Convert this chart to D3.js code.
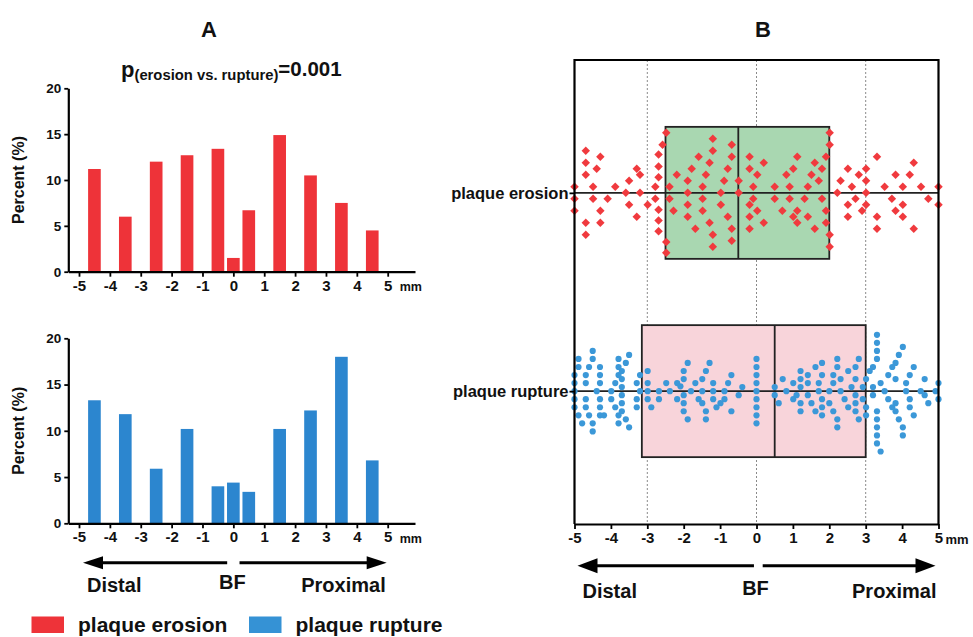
<!DOCTYPE html>
<html>
<head>
<meta charset="utf-8">
<script src="https://cdn.jsdelivr.net/npm/d3@7"></script>
<style>
  html, body { margin: 0; padding: 0; background: #fff; }
  svg { display: block; font-family: "Liberation Sans", Arial, Helvetica, sans-serif; font-weight: bold; }
  svg text { font-weight: bold; }
</style>
</head>
<body>
<svg id="chart" width="973" height="637"></svg>
<script>
// ---------------- DATA ----------------
const binCenters = [-4.5, -3.5, -2.5, -1.5, -0.5, 0, 0.5, 1.5, 2.5, 3.5, 4.5];
const erosionPct = [11.2, 6.0, 12.0, 12.7, 13.4, 1.5, 6.7, 14.9, 10.5, 7.5, 4.5];
const rupturePct = [13.3, 11.8, 5.9, 10.2, 4.0, 4.4, 3.4, 10.2, 12.2, 18.0, 6.8];
const xTicks = [-5, -4, -3, -2, -1, 0, 1, 2, 3, 4, 5];
const yTicks = [0, 5, 10, 15, 20];
const gridLinesB = [-3, 0, 3];
const groups = ["plaque erosion", "plaque rupture"];
// box statistics: [min, q1, median, q3, max]
const erosionBox = [-5, -2.5, -0.5, 2.0, 5];
const ruptureBox = [-5, -3.15, 0.5, 3.0, 5];
// individual lesions: [position in mm, vertical jitter (stacking rank)]
const erosionPoints = [
  [-5.00,-1],[-5.00,1],[-5.00,3],
  [-4.69,-7],[-4.69,-5],[-4.69,-3],[-4.69,5],[-4.69,7],
  [-4.49,-1],[-4.49,1],[-4.39,-4],[-4.29,-6],[-4.29,3],[-4.29,5],
  [-4.09,1],[-3.88,-1],[-3.59,0],[-3.50,-2],[-3.50,2],
  [-3.29,-4],[-3.29,4],[-3.20,-3],[-3.20,0],[-2.99,2],
  [-2.78,-1],[-2.78,1],
  [-2.69,-6.4],[-2.69,-4.4],[-2.69,-2.6],[-2.69,2.8],[-2.69,4.6],[-2.69,6.4],
  [-2.58,-8],[-2.48,-10],[-2.48,8.2],[-2.48,10],
  [-2.39,-1],[-2.39,1],[-2.28,3],[-2.19,-3],
  [-1.89,-2],[-1.89,0],[-1.89,2],[-1.89,4],
  [-1.78,-4],[-1.68,6],[-1.59,-6],
  [-1.48,-1],[-1.48,1],[-1.48,3],[-1.39,-3],[-1.29,-5],[-1.29,5],
  [-1.20,-9],[-1.20,-7],[-1.20,7],[-1.20,9],
  [-0.98,0],[-0.98,2],[-0.89,-2],[-0.79,-4],[-0.79,4],
  [-0.68,-8],[-0.68,-6],[-0.68,6],[-0.68,8],
  [-0.49,-2],[-0.49,0],
  [-0.19,-6],[-0.19,-4],[-0.19,2],[-0.19,4],[-0.19,6],
  [-0.09,-1],[-0.09,1],[0.02,-3],[0.02,3],[0.20,-5],[0.20,5],
  [0.50,-1],[0.50,1],[0.71,3],[0.82,-3],[0.91,-1],[0.91,1],
  [1.01,-4],[1.01,4],[1.12,-6],[1.12,3],[1.12,5],[1.32,1],
  [1.41,-1],[1.41,4],[1.51,-3],[1.60,-5],[1.60,6],[1.71,-2],
  [1.80,-4],[1.80,1],[1.91,-6],[1.91,3],[1.91,5],
  [2.01,-10],[2.01,-8],[2.01,7],[2.01,9],
  [2.22,0],[2.31,-2],[2.51,-4],[2.51,2],[2.51,4],[2.62,-1],[2.72,1],
  [2.81,-3],[2.90,3],[3.01,-4],[3.01,-2],[3.01,0],[3.01,2],
  [3.31,-6],[3.31,4],[3.31,6],[3.52,-1],[3.72,1],[3.82,-3],[3.82,3],
  [4.02,-1],[4.02,2],[4.02,4],[4.21,-3],[4.32,-5],[4.32,6],
  [4.52,-1],[4.72,1],[5.00,-1],[5.00,2]
];
const rupturePoints = [
  [-5.00,-2],[-5.00,-1],[-5.00,0],[-5.00,1],[-5.00,2],
  [-4.89,-4],[-4.89,-3],[-4.89,3],[-4.79,4],
  [-4.69,-2],[-4.69,-1],[-4.69,1],[-4.69,2],[-4.60,-3],[-4.60,3],
  [-4.50,-5],[-4.50,-4],[-4.50,4],[-4.50,5],[-4.39,0],
  [-4.30,-3],[-4.30,-2],[-4.30,-1],[-4.30,1],[-4.30,2],[-4.30,3],[-4.19,3],
  [-3.99,0],[-3.99,1],[-3.88,-1],[-3.88,2],
  [-3.79,-4],[-3.79,-3],[-3.79,-2],[-3.79,3],[-3.79,4],
  [-3.70,-2.5],[-3.70,-1.5],[-3.70,-0.5],[-3.70,0.5],[-3.70,1.5],[-3.70,2.5],
  [-3.59,-3.5],[-3.59,3.5],[-3.50,-4.5],[-3.50,4.5],
  [-3.29,-1],[-3.29,1],[-3.29,2],[-3.20,-2],[-3.20,0],
  [-2.99,-2.5],[-2.99,-1],[-2.99,0],[-2.99,1],[-2.89,2],
  [-2.68,0],[-2.68,1],[-2.48,-1],[-2.38,0],[-2.18,-1],[-2.18,1],[-2.09,-0.6],
  [-2.00,-2.5],[-2.00,-1.5],[-2.00,0.5],[-2.00,1.5],[-2.00,2.5],
  [-1.89,-3.5],[-1.89,3.5],[-1.80,0],[-1.68,-1],[-1.59,1],
  [-1.49,-1.5],[-1.49,0],[-1.49,1.5],[-1.39,-2.5],[-1.39,2.5],[-1.39,3.5],
  [-1.29,-3.5],[-1.19,-1],[-1.19,0],[-1.19,1],[-1.10,2],[-0.99,1.5],
  [-0.88,0],[-0.88,1],[-0.78,-1],[-0.69,-2],[-0.69,2.5],[-0.49,0.5],[-0.39,-0.5],
  [0,-4],[0,-3],[0,-2],[0,-1],[0,0],[0,1],[0,2],[0,3],[0,4],
  [0.50,-0.5],[0.50,0.5],[0.61,1.5],[0.72,-1.5],[0.82,0],
  [1.01,-1],[1.01,1],[1.10,0.5],
  [1.21,-2.5],[1.21,-1.5],[1.21,-0.5],[1.21,1.5],[1.21,2.5],
  [1.41,-2],[1.41,-1],[1.41,0.5],[1.51,1.5],[1.62,-3],[1.62,2.5],
  [1.71,-1],[1.71,0],[1.80,-3.5],[1.80,-2],[1.80,1],[1.80,2],[1.80,3],
  [2.00,0],[2.00,1.5],[2.11,-2],[2.11,-1],[2.11,2.5],
  [2.22,-4],[2.22,-3],[2.22,3.5],[2.22,4.5],[2.31,-1.5],[2.31,0],[2.42,1],
  [2.52,-2.5],[2.52,2],[2.61,-0.5],
  [2.72,-3],[2.72,-1.5],[2.72,0.5],[2.72,1.5],[2.72,2.5],
  [2.81,-4],[2.81,3.5],[2.92,-0.5],[2.92,1],[3.01,-1.5],[3.01,2],[3.01,3],
  [3.11,-2.5],[3.20,-3],[3.20,-0.5],[3.20,0.5],
  [3.31,-7],[3.31,-6],[3.31,-5],[3.31,-4],[3.31,2.5],[3.31,3.5],[3.31,4.5],[3.31,5.5],[3.31,6.5],
  [3.41,7.5],[3.41,-1],[3.52,0],[3.62,-2],[3.62,1],[3.73,-3],[3.73,2],
  [3.82,-3.5],[3.82,-1.5],[3.82,1.5],[3.82,2.5],[3.91,-4.5],[3.91,3.5],
  [4.02,-5.5],[4.02,4.5],[4.02,5.5],[4.11,-1],[4.11,0],
  [4.21,-2],[4.21,1],[4.21,2],[4.32,-3],[4.32,3],
  [4.51,0],[4.62,-1.5],[4.62,0.5],[4.72,1.5],[4.92,0],[5.00,-1],[5.00,1]
];
// jitter extents (in stacking-rank units) that correspond to the box height
const jitterExtent = [11, 8.2];

// ---------------- STYLE ----------------
const RED = "#ee3339", BLUE = "#2c86cf";
const RED_PT = "#f03a3e", BLUE_PT = "#3b98d8";
const GREEN_BOX = "#a9d7b1", PINK_BOX = "#f8d4da";
const FONT = "Liberation Sans, Arial, sans-serif";

const svg = d3.select("#chart");
svg.append("rect").attr("width", 973).attr("height", 637).attr("fill", "#fff");

function styleTicks(axisG, size) {
  axisG.selectAll(".tick text").attr("font-size", size).attr("font-weight", "bold")
    .attr("font-family", FONT).attr("fill", "#111");
}

// ---------------- PANEL A ----------------
const xA = d3.scaleLinear().domain([-5, 5]).range([79, 387.7]);
const xAaxis = d3.scaleLinear().domain([xA.invert(68.3), xA.invert(415)]).range([68.3, 415]);
const barW = xA(0.41) - xA(0);

function barChart(values, color, y) {
  const g = svg.append("g");
  g.selectAll("rect.bar").data(values).join("rect")
    .attr("class", "bar")
    .attr("x", (d, i) => xA(binCenters[i]) - barW / 2)
    .attr("width", barW)
    .attr("y", d => y(d))
    .attr("height", d => y(0) - y(d))
    .attr("fill", color);

  const xa = g.append("g").attr("transform", `translate(0,${y(0)})`)
    .call(d3.axisBottom(xAaxis).tickValues(xTicks).tickSize(5).tickSizeOuter(0).tickPadding(3.5).tickFormat(d => String(d)));
  xa.select(".domain").attr("stroke-width", 2.2);
  xa.selectAll(".tick line").attr("stroke-width", 1.8);
  styleTicks(xa, 15);
  g.append("text").attr("x", xA(5) + 12).attr("y", y(0) + 19.5)
    .attr("font-size", 12.5).attr("fill", "#111").text("mm");

  const ya = g.append("g").attr("transform", `translate(68.3,0)`)
    .call(d3.axisLeft(y).tickValues(yTicks).tickSize(4).tickSizeOuter(0).tickPadding(3));
  ya.select(".domain").attr("stroke-width", 2.2);
  ya.selectAll(".tick line").attr("stroke-width", 1.8);
  styleTicks(ya, 13.5);

  g.append("text")
    .attr("transform", `translate(24,${(y(0) + y(20)) / 2}) rotate(-90)`)
    .attr("text-anchor", "middle").attr("font-size", 16).attr("fill", "#111")
    .text("Percent (%)");
}

const yTop = d3.scaleLinear().domain([0, 20]).range([271.7, 88.3]);
const yBot = d3.scaleLinear().domain([0, 20]).range([523.3, 338.3]);
barChart(erosionPct, RED, yTop);
barChart(rupturePct, BLUE, yBot);

// titles
svg.append("text").attr("x", 209).attr("y", 37).attr("text-anchor", "middle")
  .attr("font-size", 22).attr("fill", "#111").text("A");
svg.append("text").attr("x", 763).attr("y", 37).attr("text-anchor", "middle")
  .attr("font-size", 22).attr("fill", "#111").text("B");

// p value
const pt = svg.append("text").attr("x", 121).attr("y", 77).attr("fill", "#111");
pt.append("tspan").attr("font-size", 22).text("p");
pt.append("tspan").attr("font-size", 14.8).attr("dy", 3).text("(erosion vs. rupture)");
pt.append("tspan").attr("font-size", 20.5).attr("dy", -4).text("=0.001");

// arrows with labels
function arrowRow(xs, yArrow, yText, xLeftTip, xLeftEnd, xRightStart, xRightTip, headH) {
  const g = svg.append("g");
  const hl = 20;
  g.append("line").attr("x1", xLeftTip + hl - 1).attr("x2", xLeftEnd).attr("y1", yArrow).attr("y2", yArrow)
    .attr("stroke", "#000").attr("stroke-width", 3);
  g.append("path").attr("d", `M${xLeftTip},${yArrow} L${xLeftTip + hl},${yArrow - headH / 2} L${xLeftTip + hl},${yArrow + headH / 2} Z`).attr("fill", "#000");
  g.append("line").attr("x1", xRightStart).attr("x2", xRightTip - hl + 1).attr("y1", yArrow).attr("y2", yArrow)
    .attr("stroke", "#000").attr("stroke-width", 3);
  g.append("path").attr("d", `M${xRightTip},${yArrow} L${xRightTip - hl},${yArrow - headH / 2} L${xRightTip - hl},${yArrow + headH / 2} Z`).attr("fill", "#000");
  g.append("text").attr("x", xs(-5) + 8).attr("y", yText).attr("font-size", 20).attr("fill", "#111").text("Distal");
  g.append("text").attr("x", xs(0) - 1).attr("y", yText - 3).attr("text-anchor", "middle").attr("font-size", 20).attr("fill", "#111").text("BF");
  g.append("text").attr("x", xs(5) - 2).attr("y", yText).attr("text-anchor", "end").attr("font-size", 20).attr("fill", "#111").text("Proximal");
}
arrowRow(xA, 562.7, 592, xA(-5) + 4, xA(-0.2), xA(0.2), xA(5) - 1, 13);

// legend
const legend = svg.append("g");
[["plaque erosion", RED, 31.5], ["plaque rupture", "#3592d5", 249]].forEach(([t, c, x]) => {
  legend.append("rect").attr("x", x).attr("y", 616.5).attr("width", 32.5).attr("height", 16.5).attr("fill", c);
  legend.append("text").attr("x", x + 46.5).attr("y", 632).attr("font-size", 21).attr("fill", "#111").text(t);
});

// ---------------- PANEL B ----------------
const xB = d3.scaleLinear().domain([-5, 5]).range([574.5, 938.5]);
const frameTop = 60, frameBottom = 524;
const yRow = d3.scalePoint().domain(groups).range([frameTop, frameBottom]).padding(0.67);
const boxHalf = 66;

const gB = svg.append("g");
// grid lines
gB.selectAll("line.grid").data(gridLinesB).join("line")
  .attr("x1", d => xB(d)).attr("x2", d => xB(d))
  .attr("y1", frameTop).attr("y2", frameBottom)
  .attr("stroke", "#8a8a8a").attr("stroke-width", 1).attr("stroke-dasharray", "2,2");

const boxes = [erosionBox, ruptureBox];
const fills = [GREEN_BOX, PINK_BOX];
groups.forEach((grp, gi) => {
  const cy = yRow(grp);
  const [mn, q1, med, q3, mx] = boxes[gi];
  gB.append("rect").attr("x", xB(q1)).attr("y", cy - boxHalf)
    .attr("width", xB(q3) - xB(q1)).attr("height", 2 * boxHalf)
    .attr("fill", fills[gi]).attr("stroke", "#222").attr("stroke-width", 1.8);
  gB.append("line").attr("x1", xB(mn)).attr("x2", xB(mx)).attr("y1", cy).attr("y2", cy)
    .attr("stroke", "#222").attr("stroke-width", 1.8);
  gB.append("line").attr("x1", xB(med)).attr("x2", xB(med)).attr("y1", cy - boxHalf).attr("y2", cy + boxHalf)
    .attr("stroke", "#222").attr("stroke-width", 1.8);
});

// points
const jitE = d3.scaleLinear().domain([-jitterExtent[0], jitterExtent[0]]).range([-boxHalf, boxHalf]);
const jitR = d3.scaleLinear().domain([-jitterExtent[1], jitterExtent[1]]).range([-boxHalf, boxHalf]);
const diamond = d3.symbol(d3.symbolSquare, 36)();
gB.selectAll("path.ero").data(erosionPoints).join("path")
  .attr("class", "ero").attr("d", diamond)
  .attr("transform", d => `translate(${xB(d[0])},${yRow(groups[0]) + jitE(d[1])}) rotate(45)`)
  .attr("fill", RED_PT);
gB.selectAll("circle.rup").data(rupturePoints).join("circle")
  .attr("class", "rup").attr("r", 3.1)
  .attr("cx", d => xB(d[0])).attr("cy", d => yRow(groups[1]) + jitR(d[1]))
  .attr("fill", BLUE_PT);

// frame
gB.append("path")
  .attr("d", `M${xB(-5)},${frameBottom} V${frameTop} H${xB(5)} V${frameBottom}`)
  .attr("fill", "none").attr("stroke", "#000").attr("stroke-width", 2.2);

// x axis
const xbAxis = gB.append("g").attr("transform", `translate(0,${frameBottom})`)
  .call(d3.axisBottom(xB).tickValues(xTicks).tickSize(5).tickSizeOuter(0).tickPadding(3.5).tickFormat(d => String(d)));
xbAxis.select(".domain").attr("stroke-width", 2.2);
xbAxis.selectAll(".tick line").attr("stroke-width", 1.8);
styleTicks(xbAxis, 15);
gB.append("text").attr("x", xB(5) + 7).attr("y", frameBottom + 19.5)
  .attr("font-size", 13).attr("fill", "#111").text("mm");

// y axis (category)
const ybAxis = gB.append("g").attr("transform", `translate(${xB(-5)},0)`)
  .call(d3.axisLeft(yRow).tickSize(5).tickSizeOuter(0).tickPadding(1));
ybAxis.select(".domain").remove();
ybAxis.selectAll(".tick line").attr("stroke-width", 1.8);
styleTicks(ybAxis, 16.5);

arrowRow(xB, 565.8, 597.5, xB(-5) + 3, xB(-0.07), xB(0.17), xB(5) - 3, 15);
</script>
</body>
</html>
